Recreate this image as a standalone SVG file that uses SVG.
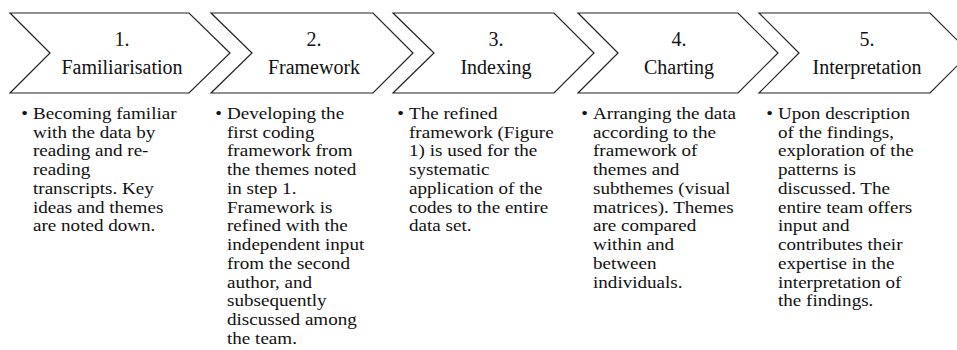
<svg xmlns="http://www.w3.org/2000/svg" width="957" height="350" viewBox="0 0 957 350">
<style>
.chev{fill:#fff;stroke:#222;stroke-width:1.2;stroke-linejoin:miter}
.hd{font-family:"Liberation Serif","Times New Roman",serif;font-size:20px;fill:#111;text-anchor:middle}
.bd{font-family:"Liberation Serif","Times New Roman",serif;font-size:16.9px;fill:#111}
</style>
<rect width="957" height="350" fill="#fff"/>
<g id="step1">
<polygon class="chev" points="10,13 189,13 230,53 189,93 10,93 50,53"/>
<text class="hd" x="122" y="46">1.</text>
<text class="hd" x="122" y="74">Familiarisation</text>
<g transform="translate(33,0) scale(1.13,1)">
<text class="bd"><tspan x="-10.5" y="119">•</tspan><tspan x="0" y="119">Becoming familiar</tspan><tspan x="0" y="137.75">with the data by</tspan><tspan x="0" y="156.5">reading and re-</tspan><tspan x="0" y="175.25">reading</tspan><tspan x="0" y="194">transcripts. Key</tspan><tspan x="0" y="212.75">ideas and themes</tspan><tspan x="0" y="231.5">are noted down.</tspan></text>
</g>
</g>
<g id="step2">
<polygon class="chev" points="211,13 373,13 413,53 373,93 211,93 252,53"/>
<text class="hd" x="314" y="46">2.</text>
<text class="hd" x="314" y="74">Framework</text>
<g transform="translate(227,0) scale(1.13,1)">
<text class="bd"><tspan x="-10.5" y="119">•</tspan><tspan x="0" y="119">Developing the</tspan><tspan x="0" y="137.75">first coding</tspan><tspan x="0" y="156.5">framework from</tspan><tspan x="0" y="175.25">the themes noted</tspan><tspan x="0" y="194">in step 1.</tspan><tspan x="0" y="212.75">Framework is</tspan><tspan x="0" y="231.5">refined with the</tspan><tspan x="0" y="250.25">independent input</tspan><tspan x="0" y="269">from the second</tspan><tspan x="0" y="287.75">author, and</tspan><tspan x="0" y="306.5">subsequently</tspan><tspan x="0" y="325.25">discussed among</tspan><tspan x="0" y="344">the team.</tspan></text>
</g>
</g>
<g id="step3">
<polygon class="chev" points="393,13 554,13 594,53 554,93 393,93 434,53"/>
<text class="hd" x="496" y="46">3.</text>
<text class="hd" x="496" y="74">Indexing</text>
<g transform="translate(409,0) scale(1.13,1)">
<text class="bd"><tspan x="-10.5" y="119">•</tspan><tspan x="0" y="119">The refined</tspan><tspan x="0" y="137.75">framework (Figure</tspan><tspan x="0" y="156.5">1) is used for the</tspan><tspan x="0" y="175.25">systematic</tspan><tspan x="0" y="194">application of the</tspan><tspan x="0" y="212.75">codes to the entire</tspan><tspan x="0" y="231.5">data set.</tspan></text>
</g>
</g>
<g id="step4">
<polygon class="chev" points="578,13 738,13 778,53 738,93 578,93 618,53"/>
<text class="hd" x="679" y="46">4.</text>
<text class="hd" x="679" y="74">Charting</text>
<g transform="translate(593,0) scale(1.13,1)">
<text class="bd"><tspan x="-10.5" y="119">•</tspan><tspan x="0" y="119">Arranging the data</tspan><tspan x="0" y="137.75">according to the</tspan><tspan x="0" y="156.5">framework of</tspan><tspan x="0" y="175.25">themes and</tspan><tspan x="0" y="194">subthemes (visual</tspan><tspan x="0" y="212.75">matrices). Themes</tspan><tspan x="0" y="231.5">are compared</tspan><tspan x="0" y="250.25">within and</tspan><tspan x="0" y="269">between</tspan><tspan x="0" y="287.75">individuals.</tspan></text>
</g>
</g>
<g id="step5">
<polygon class="chev" points="759,13 930,13 970,53 930,93 759,93 799,53"/>
<text class="hd" x="867" y="46">5.</text>
<text class="hd" x="867" y="74">Interpretation</text>
<g transform="translate(778,0) scale(1.13,1)">
<text class="bd"><tspan x="-10.5" y="119">•</tspan><tspan x="0" y="119">Upon description</tspan><tspan x="0" y="137.75">of the findings,</tspan><tspan x="0" y="156.5">exploration of the</tspan><tspan x="0" y="175.25">patterns is</tspan><tspan x="0" y="194">discussed. The</tspan><tspan x="0" y="212.75">entire team offers</tspan><tspan x="0" y="231.5">input and</tspan><tspan x="0" y="250.25">contributes their</tspan><tspan x="0" y="269">expertise in the</tspan><tspan x="0" y="287.75">interpretation of</tspan><tspan x="0" y="306.5">the findings.</tspan></text>
</g>
</g>
<g id="connectors"></g>
</svg>
